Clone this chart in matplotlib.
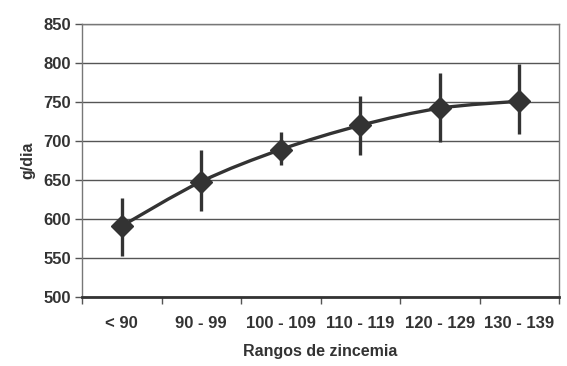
import matplotlib
matplotlib.use("Agg")
import matplotlib.pyplot as plt
from matplotlib.path import Path
from matplotlib.patches import PathPatch
import numpy as np

categories = ["< 90", "90 - 99", "100 - 109", "110 - 119", "120 - 129", "130 - 139"]
values = [591, 648, 689, 720, 742, 751]
err_upper = [36, 41, 23, 38, 45, 48]
err_lower = [38, 38, 20, 38, 43, 42]
y_ticks = [500, 550, 600, 650, 700, 750, 800, 850]

plt.rcParams['font.family'] = ['Liberation Sans', 'DejaVu Sans']
dark = '#333333'
grid = '#555555'

fig = plt.figure(figsize=(5.67, 3.66), dpi=100)
ax = fig.add_axes([82/567, 1-297/366, (559-82)/567, (297-24)/366])

x = np.arange(len(categories)) + 0.5

# smoothed line (Excel-style Bezier through the data points)
verts = [(x[0], values[0])]
codes = [Path.MOVETO]
t = 1/6
for i in range(len(x) - 1):
    p0 = (x[i-1], values[i-1]) if i > 0 else (x[i], values[i])
    p1 = (x[i], values[i])
    p2 = (x[i+1], values[i+1])
    p3 = (x[i+2], values[i+2]) if i + 2 < len(x) else p2
    c1 = (p1[0] + (p2[0]-p0[0])*t, p1[1] + (p2[1]-p0[1])*t)
    c2 = (p2[0] - (p3[0]-p1[0])*t, p2[1] - (p3[1]-p1[1])*t)
    verts += [c1, c2, p2]
    codes += [Path.CURVE4]*3
ax.add_patch(PathPatch(Path(verts, codes), fill=False, edgecolor=dark, lw=2.4, zorder=3))

ax.errorbar(x, values, yerr=[err_lower, err_upper], fmt='none', ecolor=dark,
            elinewidth=2.4, capsize=0, zorder=3)
ax.plot(x, values, linestyle='none', marker='D', markersize=11, color=dark, zorder=4)

ax.set_xlim(0, len(categories))
ax.set_ylim(500, 850)
ax.set_yticks(y_ticks)
ax.set_yticklabels([str(v) for v in y_ticks], fontsize=12, fontweight='bold', color=dark)
ax.yaxis.grid(True, color=grid, lw=1.0)
ax.set_axisbelow(True)

ax.set_xticks(np.arange(len(categories) + 1))
ax.set_xticklabels([])
ax.set_xticks(x, minor=True)
ax.set_xticklabels(categories, minor=True, fontsize=12, fontweight='bold', color=dark)
ax.tick_params(axis='x', which='minor', length=0, pad=14)
ax.tick_params(axis='x', which='major', length=5, width=1, color=grid, direction='out')
ax.tick_params(axis='y', length=5, width=1, color=grid, pad=3)

for s in ['left', 'right', 'top']:
    ax.spines[s].set_color('#777777')
    ax.spines[s].set_linewidth(1.0)
ax.spines['bottom'].set_color(dark)
ax.spines['bottom'].set_linewidth(2.0)

ax.set_ylabel('g/dia', fontsize=11.5, fontweight='bold', color=dark, labelpad=6)
ax.set_xlabel('Rangos de zincemia', fontsize=11.5, fontweight='bold', color=dark, labelpad=9)

fig.savefig('out.png', dpi=100, facecolor='white')
